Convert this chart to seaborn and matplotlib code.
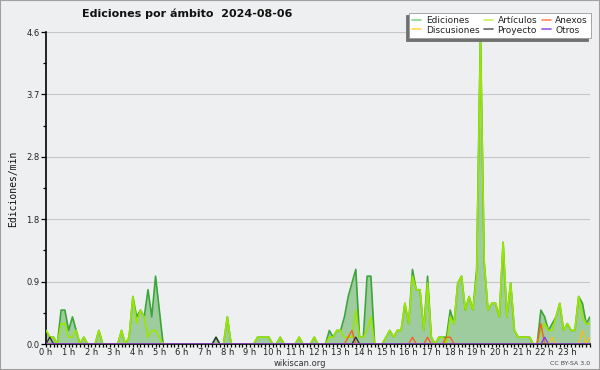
import numpy as np
import pandas as pd
import matplotlib
matplotlib.use("Agg")
import matplotlib.pyplot as plt
import seaborn as sns
from matplotlib.lines import Line2D
from matplotlib.patches import Rectangle

# Ediciones por minuto, un valor cada 10 minutos (0 h .. 24 h)
ediciones = [
    0.2, 0.1, 0.1, 0, 0.5, 0.5,
    0.2, 0.4, 0.2, 0, 0.1, 0,
    0, 0, 0.2, 0, 0, 0,
    0, 0, 0.2, 0, 0.1, 0.7,
    0.4, 0.5, 0.4, 0.8, 0.4, 1.0,
    0.5, 0, 0, 0, 0, 0,
    0, 0, 0, 0, 0, 0,
    0, 0, 0, 0.1, 0, 0,
    0.4, 0, 0, 0, 0, 0,
    0, 0, 0.1, 0.1, 0.1, 0.1,
    0, 0, 0.1, 0, 0, 0,
    0, 0.1, 0, 0, 0, 0.1,
    0, 0, 0, 0.2, 0.1, 0.2,
    0.2, 0.4, 0.7, 0.9, 1.1, 0.1,
    0.1, 1.0, 1.0, 0, 0, 0,
    0.1, 0.2, 0.1, 0.2, 0.2, 0.6,
    0.3, 1.1, 0.8, 0.8, 0.2, 1.0,
    0.1, 0, 0.1, 0.1, 0.1, 0.5,
    0.3, 0.9, 1.0, 0.5, 0.7, 0.5,
    1.1, 4.6, 1.2, 0.5, 0.6, 0.6,
    0.4, 1.5, 0.4, 0.9, 0.2, 0.1,
    0.1, 0.1, 0.1, 0, 0, 0.5,
    0.4, 0.2, 0.3, 0.4, 0.6, 0.2,
    0.3, 0.2, 0.2, 0.7, 0.6, 0.3,
    0.4,
]
articulos = [
    0.2, 0.1, 0.1, 0, 0.3, 0.3,
    0.1, 0.1, 0.2, 0, 0.1, 0,
    0, 0, 0.2, 0, 0, 0,
    0, 0, 0.2, 0, 0.1, 0.7,
    0.3, 0.5, 0.4, 0.1, 0.2, 0.2,
    0.1, 0, 0, 0, 0, 0,
    0, 0, 0, 0, 0, 0,
    0, 0, 0, 0, 0, 0,
    0.4, 0, 0, 0, 0, 0,
    0, 0, 0.1, 0.1, 0.1, 0.1,
    0, 0, 0.1, 0, 0, 0,
    0, 0.1, 0, 0, 0, 0.1,
    0, 0, 0, 0.1, 0.1, 0.2,
    0.2, 0.1, 0.1, 0.1, 0.5, 0.1,
    0.1, 0.2, 0.4, 0, 0, 0,
    0.1, 0.2, 0.1, 0.2, 0.2, 0.6,
    0.3, 1.0, 0.8, 0.8, 0.2, 0.9,
    0.1, 0, 0.1, 0.1, 0, 0.4,
    0.3, 0.9, 1.0, 0.5, 0.7, 0.5,
    1.0, 4.5, 1.2, 0.5, 0.6, 0.6,
    0.4, 1.5, 0.4, 0.9, 0.2, 0.1,
    0.1, 0.1, 0.1, 0, 0, 0.2,
    0.3, 0.2, 0.2, 0.4, 0.6, 0.2,
    0.3, 0.2, 0.2, 0.7, 0.4, 0.3,
    0.3,
]
# series dispersas: {intervalo de 10 min: valor}
anexos = {80: 0.1, 81: 0.2, 97: 0.1, 101: 0.1, 106: 0.1, 107: 0.1, 131: 0.3}
discusiones = {134: 0.1, 142: 0.2, 144: 0.1}
proyecto = {1: 0.1, 45: 0.1, 82: 0.1}
otros = {132: 0.1}

n = len(ediciones)
horas = np.arange(n) / 6.0

def expand(d):
    v = np.zeros(n)
    for k, val in d.items():
        v[k] = val
    return v

df = pd.DataFrame({
    "hora": horas,
    "Ediciones": ediciones,
    "Artículos": articulos,
    "Anexos": expand(anexos),
    "Discusiones": expand(discusiones),
    "Proyecto": expand(proyecto),
    "Otros": expand(otros),
})

sns.set_style("white")
plt.rcParams["font.family"] = ["DejaVu Sans"]

bg = "#eeeff0"
fig = plt.figure(figsize=(6, 3.7), dpi=100, facecolor=bg)
ax = fig.add_axes([46 / 600, 26 / 370, 544 / 600, 312 / 370])
ax.set_facecolor(bg)

ax.fill_between(df["hora"], df["Ediciones"], color="#9fcc9f", lw=0, zorder=1)
sns.lineplot(data=df, x="hora", y="Ediciones", ax=ax, color="#3aa63a", lw=1.2, zorder=2)
sns.lineplot(data=df, x="hora", y="Artículos", ax=ax, color="#9be600", lw=1.2, zorder=3)
sns.lineplot(data=df, x="hora", y="Anexos", ax=ax, color="#f0602a", lw=1.0, zorder=4)
sns.lineplot(data=df, x="hora", y="Discusiones", ax=ax, color="#f0c020", lw=1.0, zorder=4)
sns.lineplot(data=df, x="hora", y="Proyecto", ax=ax, color="#333333", lw=1.0, zorder=4)
sns.lineplot(data=df, x="hora", y="Otros", ax=ax, color="#8a3ae6", lw=1.0, zorder=4)

ymax = 4.6
ax.set_xlim(0, 24)
ax.set_ylim(0, ymax)
yt = np.linspace(0, ymax, 6)
ax.set_yticks(yt)
ax.set_yticklabels([f"{v:.1f}" for v in yt], fontsize=6)
ax.set_yticks(yt[:-1] + ymax / 10, minor=True)
ax.set_xticks(range(25))
ax.set_xticklabels([f"{h} h" for h in range(24)] + [""], fontsize=6)
ax.set_xticks(np.arange(0, 24, 1 / 6), minor=True)
ax.tick_params(axis="both", which="major", direction="out", length=3.5, width=0.9,
               color="black", pad=1.0, labelcolor="#222222")
ax.tick_params(axis="both", which="minor", direction="out", length=2.2, width=0.9,
               color="black")
ax.tick_params(axis="x", which="major", length=2.5, pad=0.5)
ax.tick_params(axis="y", which="both", left=True)
ax.tick_params(axis="x", which="both", bottom=True)
ax.grid(axis="y", which="major", color="#c8c8c8", lw=0.8)
ax.set_axisbelow(True)
for s in ["top", "right"]:
    ax.spines[s].set_visible(False)
for s in ["left", "bottom"]:
    ax.spines[s].set_color("black")
    ax.spines[s].set_linewidth(1.2)
ax.set_xlabel("")
ax.set_ylabel("")

fig.text(0.312, 0.962, "Ediciones por ámbito  2024-08-06", ha="center", va="center",
         fontsize=8, fontweight="bold", color="#111111")
fig.text(0.022, 0.49, "Ediciones/min", rotation=90, ha="center", va="center",
         fontsize=7, family="DejaVu Sans Mono", color="#111111")
fig.text(0.5, 0.018, "wikiscan.org", ha="center", va="center", fontsize=6, color="#333333")
fig.text(0.983, 0.018, "CC BY-SA 3.0", ha="right", va="center", fontsize=4.5, color="#444444")

handles = [
    Line2D([], [], color="#88d888", lw=1.2, label="Ediciones"),
    Line2D([], [], color="#ffd850", lw=1.2, label="Discusiones"),
    Line2D([], [], color="#ccf060", lw=1.2, label="Artículos"),
    Line2D([], [], color="#666666", lw=1.2, label="Proyecto"),
    Line2D([], [], color="#ff8855", lw=1.2, label="Anexos"),
    Line2D([], [], color="#9955ee", lw=1.2, label="Otros"),
]
leg = fig.legend(handles=handles, ncol=3, loc="upper right", bbox_to_anchor=(0.985, 0.966),
                 fontsize=6.5, frameon=True, fancybox=False, handlelength=1.0,
                 handletextpad=0.5, columnspacing=0.5, labelspacing=0.1,
                 borderpad=0.35, borderaxespad=0,
                 shadow={"ox": -2, "oy": -2, "color": "#707070", "alpha": 1})
leg.get_frame().set_edgecolor("#999999")
leg.get_frame().set_linewidth(0.6)
leg.get_frame().set_facecolor("white")
for t in leg.get_texts():
    t.set_color("#222222")

fig.patches.append(Rectangle((0, 0), 1, 1, transform=fig.transFigure, fill=False,
                             edgecolor="#a0a0a0", lw=1.5, zorder=10))

fig.savefig("out.png", dpi=100, facecolor=bg)
